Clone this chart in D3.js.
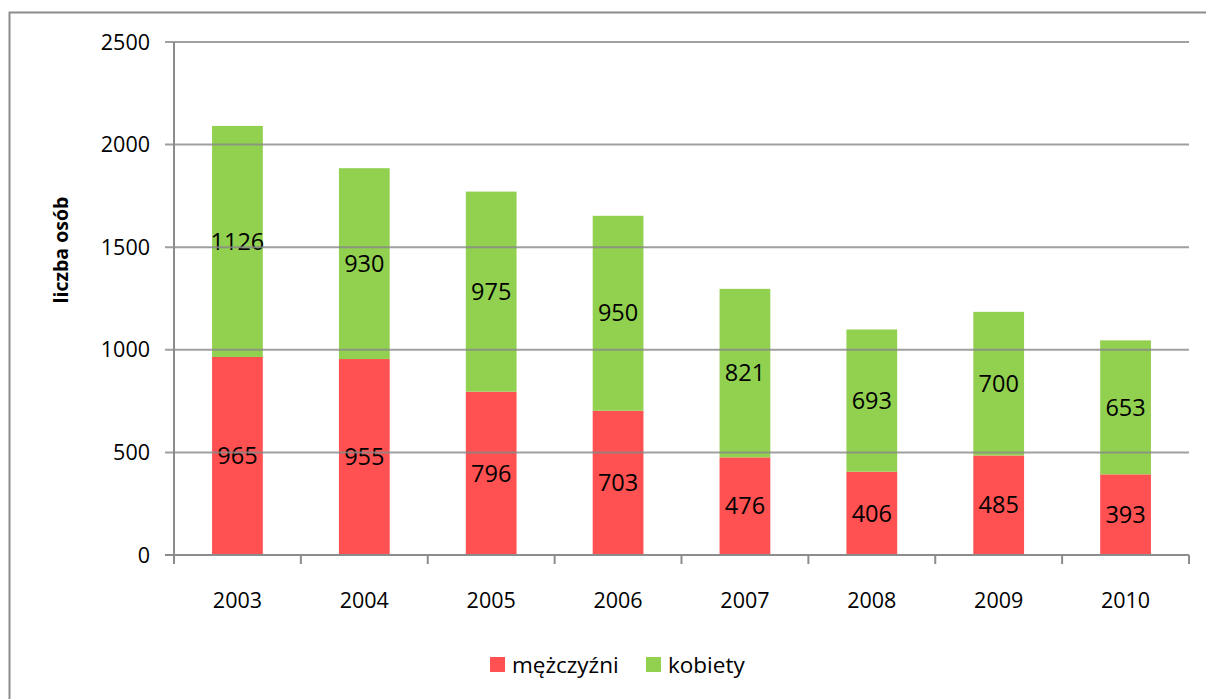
<!DOCTYPE html>
<html>
<head>
<meta charset="utf-8">
<script src="https://cdn.jsdelivr.net/npm/d3@7"></script>
<style>
  body { margin: 0; background: #fff; }
  svg text { font-family: "Open Sans", "Noto Sans", sans-serif; fill: #000; }
</style>
</head>
<body>
<div id="chart"></div>
<script>
// data
var years = ["2003", "2004", "2005", "2006", "2007", "2008", "2009", "2010"];
var men = [965, 955, 796, 703, 476, 406, 485, 393];
var women = [1126, 930, 975, 950, 821, 693, 700, 653];
var seriesNames = ["mężczyźni", "kobiety"];
var seriesColors = ["#FF5151", "#92D050"];
var yTicks = [0, 500, 1000, 1500, 2000, 2500];

var width = 1206, height = 699;
var margin = {left: 174, right: 17, top: 42, bottom: 144};
var plotW = width - margin.left - margin.right;
var plotH = height - margin.top - margin.bottom;

var svg = d3.select("#chart").append("svg")
  .attr("width", width)
  .attr("height", height);

// outer frame
svg.append("rect")
  .attr("x", 9.5).attr("y", 12.5)
  .attr("width", 1220).attr("height", 720)
  .style("fill", "none").style("stroke", "#8c8c8c").style("stroke-width", 2);

var g = svg.append("g").attr("transform", "translate(" + margin.left + "," + margin.top + ")");

var x = d3.scaleBand().domain(years).range([0, plotW]).paddingInner(0.6).paddingOuter(0.3);
var xCat = d3.scaleBand().domain(years).range([0, plotW]);
var y = d3.scaleLinear().domain([0, 2500]).range([plotH, 0]);

// stack the two series
var rows = years.map(function(d, i) { return {year: d, m: men[i], k: women[i]}; });
var stack = d3.stack().keys(["m", "k"])(rows);

var layers = g.selectAll(".layer")
  .data(stack).enter()
  .append("g").attr("class", "layer")
  .style("fill", function(d, i) { return seriesColors[i]; });

layers.selectAll("rect")
  .data(function(d) { return d; }).enter()
  .append("rect")
  .attr("x", function(d) { return x(d.data.year); })
  .attr("y", function(d) { return y(d[1]); })
  .attr("width", x.bandwidth())
  .attr("height", function(d) { return y(d[0]) - y(d[1]); });

// gridlines (drawn over bars, like the reference)
g.selectAll(".grid")
  .data(yTicks.slice(1)).enter()
  .append("line").attr("class", "grid")
  .attr("x1", -9).attr("x2", plotW)
  .attr("y1", function(d) { return y(d); })
  .attr("y2", function(d) { return y(d); })
  .style("stroke", "#888").style("stroke-opacity", 0.8).style("stroke-width", 2);

// y axis
g.append("line")
  .attr("x1", 0).attr("x2", 0).attr("y1", 0).attr("y2", plotH + 9)
  .style("stroke", "#8c8c8c").style("stroke-width", 2);
g.selectAll(".ylab")
  .data(yTicks).enter()
  .append("text")
  .attr("x", -24)
  .attr("y", function(d) { return y(d); })
  .attr("dy", "0.35em")
  .attr("text-anchor", "end")
  .style("font-size", "21.5px")
  .text(function(d) { return d; });

// x axis
g.append("line")
  .attr("x1", -9).attr("x2", plotW).attr("y1", plotH).attr("y2", plotH)
  .style("stroke", "#8c8c8c").style("stroke-width", 2);
g.selectAll(".xtick")
  .data(years.concat(["end"])).enter()
  .append("line")
  .attr("x1", function(d, i) { return i * xCat.bandwidth(); })
  .attr("x2", function(d, i) { return i * xCat.bandwidth(); })
  .attr("y1", plotH).attr("y2", plotH + 9)
  .style("stroke", "#8c8c8c").style("stroke-width", 2);
g.selectAll(".xlab")
  .data(years).enter()
  .append("text")
  .attr("x", function(d) { return xCat(d) + xCat.bandwidth() / 2; })
  .attr("y", plotH + 53)
  .attr("text-anchor", "middle")
  .style("font-size", "21.5px")
  .text(function(d) { return d; });

// data labels
layers.selectAll(".val")
  .data(function(d) { return d; }).enter()
  .append("text")
  .attr("x", function(d) { return x(d.data.year) + x.bandwidth() / 2; })
  .attr("y", function(d) { return y((d[0] + d[1]) / 2); })
  .attr("dy", "0.35em")
  .attr("text-anchor", "middle")
  .style("font-size", "23.5px")
  .style("fill", "#000")
  .text(function(d) { return d[1] - d[0]; });

// y axis title
svg.append("text")
  .attr("transform", "translate(68,250) rotate(-90)")
  .attr("text-anchor", "middle")
  .style("font-size", "19.5px")
  .style("font-weight", "bold")
  .text("liczba osób");

// legend
var legend = svg.append("g").attr("transform", "translate(490,657)");
var legX = [0, 156];
seriesNames.forEach(function(name, i) {
  legend.append("rect")
    .attr("x", legX[i]).attr("y", 0)
    .attr("width", 15).attr("height", 15)
    .style("fill", seriesColors[i]);
  legend.append("text")
    .attr("x", legX[i] + 22).attr("y", 8)
    .attr("dy", "0.35em")
    .style("font-size", "22.5px")
    .text(name);
});
</script>
</body>
</html>
